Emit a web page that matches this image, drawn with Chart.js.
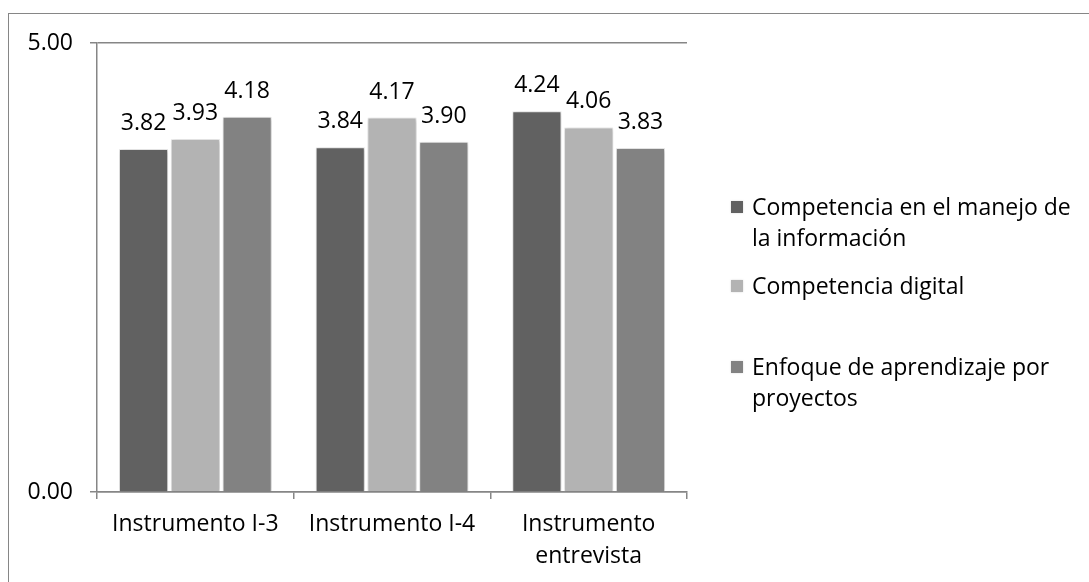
<!DOCTYPE html>
<html>
<head>
<meta charset="utf-8">
<script src="https://cdn.jsdelivr.net/npm/chart.js@4/dist/chart.umd.min.js"></script>
<style>
  body { margin: 0; background: #fff; }
  #wrap { position: relative; width: 1089px; height: 582px; overflow: hidden; }
  #frame {
    position: absolute; left: 8px; top: 13px; width: 1200px; height: 700px;
    border: 1.5px solid #868686; box-sizing: border-box;
  }
  #chart { position: absolute; left: 0; top: 0; }
  #legend {
    position: absolute; left: 731px; top: 0;
    font-family: "Open Sans", sans-serif; font-size: 23px; color: #000;
  }
  .item { position: absolute; left: 0; white-space: nowrap; line-height: 31px; }
  .swatch {
    position: absolute; left: 0; top: 10px; width: 12px; height: 12px;
    box-shadow: 0 0 2px rgba(0,0,0,0.15);
  }
  .label { margin-left: 21px; }
</style>
</head>
<body>
<div id="wrap">
  <div id="frame"></div>
  <canvas id="chart" width="1089" height="582"></canvas>
  <div id="legend"></div>
</div>
<script>
const categories = [["Instrumento I-3"], ["Instrumento I-4"], ["Instrumento", "entrevista"]];
const seriesNames = [
  ["Competencia en el manejo de", "la información"],
  ["Competencia digital"],
  ["Enfoque de aprendizaje por", "proyectos"],
];
const manejoInfo = [3.82, 3.84, 4.24];
const digital = [3.93, 4.17, 4.06];
const proyectos = [4.18, 3.90, 3.83];
const seriesColors = ["#616161", "#b3b3b3", "#828282"];
const yTicks = [0, 5];

const axisGray = "#868686";
Chart.defaults.font.family = "'Open Sans', sans-serif";
Chart.defaults.font.size = 23;
Chart.defaults.color = "#000";

// soft shadow behind each bar
const barShadow = {
  id: "barShadow",
  beforeDatasetDraw(chart) {
    const ctx = chart.ctx;
    ctx.save();
    ctx.shadowColor = "rgba(0,0,0,0.22)";
    ctx.shadowBlur = 4;
    ctx.shadowOffsetX = 1;
    ctx.shadowOffsetY = 1;
  },
  afterDatasetDraw(chart) {
    chart.ctx.restore();
  },
};

// value above each bar
const valueLabels = {
  id: "valueLabels",
  afterDatasetsDraw(chart) {
    const ctx = chart.ctx;
    ctx.save();
    ctx.font = "23px 'Open Sans', sans-serif";
    ctx.fillStyle = "#000";
    ctx.textAlign = "center";
    ctx.textBaseline = "alphabetic";
    chart.data.datasets.forEach((ds, i) => {
      chart.getDatasetMeta(i).data.forEach((bar, j) => {
        ctx.fillText(ds.data[j].toFixed(2), bar.x, bar.y - 19);
      });
    });
    ctx.restore();
  },
};

const datasets = [manejoInfo, digital, proyectos].map((vals, i) => ({
  label: seriesNames[i].join(" "),
  data: vals,
  backgroundColor: seriesColors[i],
  borderColor: "#efefef",
  borderWidth: 1,
  categoryPercentage: 0.79,
  barPercentage: 0.95,
}));

new Chart(document.getElementById("chart"), {
  type: "bar",
  data: { labels: categories, datasets },
  options: {
    responsive: false,
    animation: false,
    events: [],
    layout: { padding: { left: 0, top: 43, right: 402, bottom: 0 } },
    plugins: { legend: { display: false }, tooltip: { enabled: false } },
    scales: {
      x: {
        afterFit(scale) { scale.height = 90; },
        grid: {
          display: true,
          drawOnChartArea: false,
          offset: true,
          tickLength: 7,
          color: axisGray,
          lineWidth: 1.5,
        },
        border: { display: true, color: axisGray, width: 1.5 },
        ticks: { padding: 9, maxRotation: 0, font: { size: 23, lineHeight: 1.39 } },
      },
      y: {
        min: 0,
        max: 5,
        afterFit(scale) { scale.width = 97; },
        afterBuildTicks(scale) { scale.ticks = yTicks.map((v) => ({ value: v })); },
        grid: { color: axisGray, lineWidth: 1.5, tickLength: 7 },
        border: { display: true, color: axisGray, width: 1.5 },
        ticks: { padding: 17, callback: (v) => Number(v).toFixed(2) },
      },
    },
  },
  plugins: [barShadow, valueLabels],
});

// legend on the right
const legendEl = document.getElementById("legend");
const itemCenters = [206, 285, 366];
seriesNames.forEach((lines, i) => {
  const item = document.createElement("div");
  item.className = "item";
  item.style.top = itemCenters[i] - 15.5 + "px";
  item.innerHTML =
    `<span class="swatch" style="background:${seriesColors[i]}"></span>` +
    `<div class="label">${lines.join("<br>")}</div>`;
  legendEl.appendChild(item);
});
</script>
</body>
</html>
